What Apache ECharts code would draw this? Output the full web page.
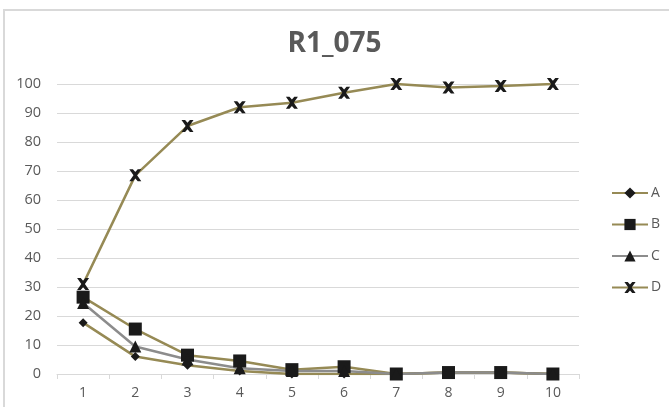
<!DOCTYPE html>
<html><head><meta charset="utf-8">
<script src="https://cdn.jsdelivr.net/npm/echarts@6/dist/echarts.min.js"></script>
<style>html,body{margin:0;padding:0;background:#fff;overflow:hidden}
#f{position:absolute;left:3px;top:9px;width:700px;height:450px;border-left:2px solid #d9d9d9;border-top:2px solid #d9d9d9}
#c{position:absolute;left:0;top:0;width:669px;height:407px}</style>
</head><body><div id="f"></div><div id="c"></div>
<script>
const categories = ['1','2','3','4','5','6','7','8','9','10'];
const seriesA = [17.7, 6, 3, 1, 0, 0, 0, 0.5, 0.5, 0];
const seriesB = [26.5, 15.5, 6.5, 4.5, 1.5, 2.5, 0, 0.5, 0.5, 0];
const seriesC = [24.5, 9.5, 5, 2, 1, 1, 0, 0.5, 0.5, 0];
const seriesD = [31, 68.5, 85.5, 92, 93.5, 97, 100, 98.8, 99.3, 100];
const olive = '#968a55', gray = '#8c8c8c';
const xPath = 'path://M0,0L3,0L5,2.3L7,0L10,0L6.5,5L10,10L7,10L5,7.7L3,10L0,10L3.5,5Z';
const chart = echarts.init(document.getElementById('c'));
function mk(name, data, color, symbol, size){
  return {name, type:'line', data, symbol, symbolSize:size, showAllSymbol:true,
    lineStyle:{color, width:2.5}, itemStyle:{color:'#1a1a1a', borderWidth:0}, z: 2};
}
chart.setOption({
  animation:false,
  title:{text:'R1_075', left:'center', top:25, textStyle:{fontFamily:'Open Sans', fontWeight:'bold', fontSize:28, color:'#595959'}},
  grid:{left:57, right:90, top:84, bottom:33, containLabel:false},
  legend:{orient:'vertical', left:606, top:181, itemGap:17.5, itemWidth:36, itemHeight:14,
    textStyle:{fontFamily:'Open Sans', fontSize:14, color:'#595959', padding:[0,0,0,-2]},
    data:['A','B','C','D']},
  xAxis:{type:'category', data:categories, boundaryGap:true,
    axisLine:{lineStyle:{color:'#d9d9d9'}}, axisTick:{show:true, alignWithLabel:false, lineStyle:{color:'#d9d9d9'}},
    axisLabel:{fontFamily:'Open Sans', fontSize:14, color:'#595959', margin:12}},
  yAxis:{type:'value', min:0, max:100, interval:10,
    axisLine:{show:false}, axisTick:{show:false},
    splitLine:{lineStyle:{color:'#d9d9d9'}},
    axisLabel:{fontFamily:'Open Sans', fontSize:14.5, color:'#595959', margin:16}},
  series:[
    mk('A', seriesA, olive, 'diamond', 9),
    mk('B', seriesB, olive, 'rect', 13),
    mk('C', seriesC, gray, 'triangle', 12),
    mk('D', seriesD, olive, xPath, 12)
  ]
});
</script></body></html>
